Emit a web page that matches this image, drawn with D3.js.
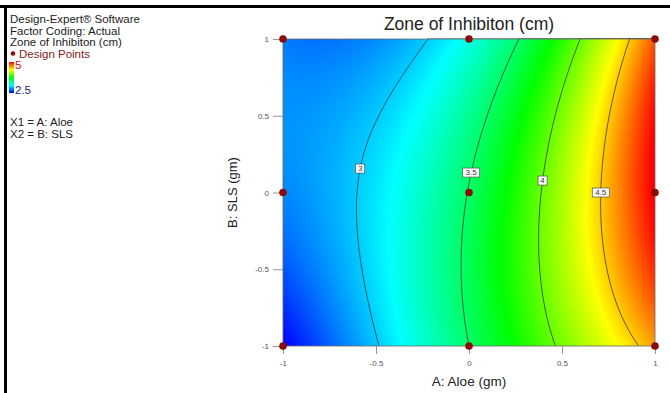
<!DOCTYPE html>
<html>
<head>
<meta charset="utf-8">
<script src="https://cdn.jsdelivr.net/npm/d3@7"></script>
<style>
  body { margin: 0; background: #fff; }
  svg { font-family: "Liberation Sans", Arial, sans-serif; display: block; }
</style>
</head>
<body>
<svg id="chart" width="670" height="393"></svg>
<script>
// design levels (coded) and response read at the 9 design points
const aloeLevels = [-1, 0, 1];
const slsLevels = [-1, 0, 1];
const zoneSlsLow = [2.49, 3.50, 4.60];   // B = -1
const zoneSlsMid = [2.83, 3.51, 5.03];   // B = 0
const zoneSlsHigh = [2.80, 3.19, 4.79];  // B = +1

const contourLevels = [3, 3.5, 4, 4.5];
const contourLabels = ['3', '3.5', '4', '4.5'];
const labelSls = [0.156, 0.13, 0.078, 0.0];

const tickValues = [-1, -0.5, 0, 0.5, 1];
const tickLabels = ['-1', '-0.5', '0', '0.5', '1'];

const colorStops = [2.5, 3.125, 3.75, 4.375, 5];
const colorRange = ['#0000ff', '#00ffff', '#00ff00', '#ffff00', '#ff0000'];

const svg = d3.select('#chart');
const margin = { top: 39, right: 15, bottom: 47, left: 283 };
const width = 670 - margin.left - margin.right;
const height = 393 - margin.top - margin.bottom;

const x = d3.scaleLinear().domain([-1, 1]).range([0, width]);
const y = d3.scaleLinear().domain([-1, 1]).range([height, 0]);
const color = d3.scaleLinear().domain(colorStops).range(colorRange).clamp(true);

// quadratic model through the design points
function weights(levels, t) {
  return levels.map((li, i) => {
    let w = 1;
    levels.forEach((lj, j) => { if (j !== i) w *= (t - lj) / (li - lj); });
    return w;
  });
}
const rows = [zoneSlsLow, zoneSlsMid, zoneSlsHigh];
function zone(a, b) {
  const wa = weights(aloeLevels, a), wb = weights(slsLevels, b);
  let s = 0;
  rows.forEach((row, j) => row.forEach((v, i) => { s += wb[j] * wa[i] * v; }));
  return s;
}

// frame lines
svg.append('rect').attr('x', 0).attr('y', 5).attr('width', 670).attr('height', 3).attr('fill', '#000');
svg.append('rect').attr('x', 4).attr('y', 5).attr('width', 3).attr('height', 388).attr('fill', '#000');

const g = svg.append('g').attr('transform', `translate(${margin.left},${margin.top})`);

// colour fill
const canvas = document.createElement('canvas');
canvas.width = width; canvas.height = height;
const ctx = canvas.getContext('2d');
const img = ctx.createImageData(width, height);
for (let py = 0; py < height; py++) {
  for (let px = 0; px < width; px++) {
    const c = d3.rgb(color(zone(x.invert(px + 0.5), y.invert(py + 0.5))));
    const k = (py * width + px) * 4;
    img.data[k] = c.r; img.data[k + 1] = c.g; img.data[k + 2] = c.b; img.data[k + 3] = 255;
  }
}
ctx.putImageData(img, 0, 0);
g.append('image').attr('width', width).attr('height', height)
  .attr('href', canvas.toDataURL());

// contour lines
g.append('clipPath').attr('id', 'plotclip')
  .append('rect').attr('width', width).attr('height', height);

const nx = width + 1, ny = height + 1;
const grid = new Array(nx * ny);
for (let j = 0; j < ny; j++) {
  for (let i = 0; i < nx; i++) grid[j * nx + i] = zone(x.invert(i), y.invert(j));
}
const contours = d3.contours().size([nx, ny]).thresholds(contourLevels)(grid);
g.append('g').attr('clip-path', 'url(#plotclip)')
  .attr('transform', 'translate(-0.5,-0.5)')
  .selectAll('path').data(contours).join('path')
  .attr('d', d3.geoPath())
  .attr('fill', 'none')
  .attr('stroke', '#3a3a3a')
  .attr('stroke-width', 0.8);

// plot border
g.append('rect').attr('width', width).attr('height', height)
  .attr('fill', 'none').attr('stroke', '#666').attr('stroke-width', 0.8);

// contour labels
contourLevels.forEach((lev, i) => {
  const b = labelSls[i];
  let lo = -1, hi = 1;
  for (let n = 0; n < 40; n++) {
    const mid = (lo + hi) / 2;
    if (zone(mid, b) < lev) lo = mid; else hi = mid;
  }
  const cx = x((lo + hi) / 2), cy = y(b);
  const w = contourLabels[i].length > 1 ? 17 : 9;
  const lg = g.append('g').attr('transform', `translate(${cx},${cy})`);
  lg.append('rect').attr('x', -w / 2).attr('y', -4.5).attr('width', w).attr('height', 9)
    .attr('fill', '#fff').attr('stroke', '#555').attr('stroke-width', 0.7);
  lg.append('text').attr('y', 2.7).attr('text-anchor', 'middle')
    .attr('font-size', 8).attr('fill', '#333').text(contourLabels[i]);
});

// axes
const xAxis = g.append('g').attr('transform', `translate(0,${height})`)
  .call(d3.axisBottom(x).tickValues(tickValues).tickFormat((d, i) => tickLabels[i])
    .tickSize(8).tickPadding(6));
const yAxis = g.append('g')
  .call(d3.axisLeft(y).tickValues(tickValues).tickFormat((d, i) => tickLabels[i])
    .tickSize(10).tickPadding(4));
[xAxis, yAxis].forEach(ax => {
  ax.select('.domain').remove();
  ax.selectAll('line').attr('stroke', '#777').attr('stroke-width', 0.8);
  ax.selectAll('text').attr('fill', '#555').attr('font-size', 8)
    .attr('font-family', '"Liberation Sans", Arial, sans-serif');
});

// design points
const pts = [];
slsLevels.forEach(b => aloeLevels.forEach(a => pts.push({ a, b })));
g.selectAll('.pt').data(pts).join('circle').attr('class', 'pt')
  .attr('cx', d => x(d.a)).attr('cy', d => y(d.b)).attr('r', 3.8)
  .attr('fill', '#8b0b0b');

// titles
svg.append('text').attr('x', margin.left + width / 2).attr('y', 30)
  .attr('text-anchor', 'middle').attr('font-size', 17.5).attr('fill', '#222')
  .text('Zone of Inhibiton (cm)');
svg.append('text').attr('x', margin.left + width / 2).attr('y', 386)
  .attr('text-anchor', 'middle').attr('font-size', 13.5).attr('fill', '#222')
  .text('A: Aloe (gm)');
svg.append('text').attr('transform', `translate(237,${margin.top + height / 2}) rotate(-90)`)
  .attr('text-anchor', 'middle').attr('font-size', 13).attr('fill', '#222')
  .text('B: SLS (gm)');

// legend block
const leg = svg.append('g').attr('font-size', 11.5).attr('fill', '#222');
leg.append('text').attr('x', 10).attr('y', 23).text('Design-Expert® Software');
leg.append('text').attr('x', 10).attr('y', 34.5).text('Factor Coding: Actual');
leg.append('text').attr('x', 10).attr('y', 46).text('Zone of Inhibiton (cm)');
leg.append('circle').attr('cx', 13).attr('cy', 53.5).attr('r', 2.3).attr('fill', '#8b0b0b');
leg.append('text').attr('x', 19).attr('y', 57.5).attr('fill', '#8b1a1a').text('Design Points');

const defs = svg.append('defs');
const grad = defs.append('linearGradient').attr('id', 'bar')
  .attr('x1', 0).attr('y1', 1).attr('x2', 0).attr('y2', 0);
colorStops.forEach((s, i) => grad.append('stop')
  .attr('offset', (s - colorStops[0]) / (colorStops[colorStops.length - 1] - colorStops[0]))
  .attr('stop-color', colorRange[i]));
leg.append('rect').attr('x', 9).attr('y', 62).attr('width', 5).attr('height', 31)
  .attr('fill', 'url(#bar)');
leg.append('text').attr('x', 15).attr('y', 69).attr('fill', '#cc1111').text('5');
leg.append('text').attr('x', 15).attr('y', 94).attr('fill', '#222288').text('2.5');
leg.append('text').attr('x', 10).attr('y', 126).text('X1 = A: Aloe');
leg.append('text').attr('x', 10).attr('y', 137.5).text('X2 = B: SLS');
</script>
</body>
</html>
